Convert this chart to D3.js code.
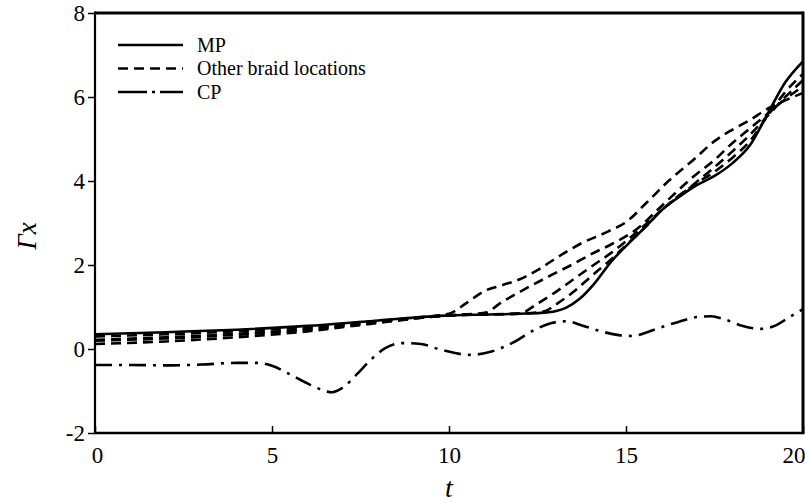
<!DOCTYPE html>
<html>
<head>
<meta charset="utf-8">
<script src="https://cdn.jsdelivr.net/npm/d3@7"></script>
<style>
  html, body { margin: 0; padding: 0; background: #fff; }
  svg { display: block; }
  text { font-family: "Liberation Serif", "Times New Roman", serif; fill: #000; }
</style>
</head>
<body>
<svg id="chart" width="805" height="502"></svg>
<script>
// Axis ticks
const xTicks = [0, 5, 10, 15, 20];
const yTicks = [-2, 0, 2, 4, 6, 8];

// MP (solid)
const tMP = [0, 2, 4, 6, 8, 10, 11, 12, 12.6, 13, 13.3, 13.7, 14.1, 14.6, 15, 15.6, 16, 16.5, 17, 17.5, 18, 18.5, 19, 19.5, 20];
const gMP = [0.35, 0.4, 0.46, 0.55, 0.68, 0.8, 0.82, 0.84, 0.86, 0.9, 0.98, 1.2, 1.55, 2.1, 2.45, 2.95, 3.3, 3.62, 3.9, 4.12, 4.42, 4.85, 5.6, 6.35, 6.85];

// Other braid locations (dashed)
const tBraid1 = [0, 2, 4, 6, 8, 9, 10, 10.5, 11, 11.5, 12, 12.5, 13, 13.7, 14.5, 15, 15.6, 16.2, 16.9, 17.5, 18, 18.5, 19, 19.5, 20];
const gBraid1 = [0.22, 0.28, 0.36, 0.48, 0.65, 0.74, 0.84, 1.1, 1.38, 1.52, 1.66, 1.88, 2.15, 2.5, 2.8, 3.02, 3.5, 4.0, 4.5, 4.95, 5.22, 5.45, 5.72, 5.92, 6.1];

const tBraid2 = [0, 2, 4, 6, 8, 10, 11, 11.5, 12, 12.8, 13.5, 14, 14.6, 15.3, 16, 16.9, 17.5, 18, 18.5, 19, 19.5, 20];
const gBraid2 = [0.2, 0.25, 0.34, 0.46, 0.64, 0.8, 0.86, 1.12, 1.36, 1.72, 2.02, 2.25, 2.5, 2.85, 3.4, 4.1, 4.5, 4.9, 5.25, 5.6, 5.95, 6.25];

const tBraid3 = [0, 2, 4, 6, 8, 10, 12, 12.5, 13, 13.5, 14, 14.6, 15.3, 16, 17, 17.5, 18, 18.5, 19, 19.5, 20];
const gBraid3 = [0.12, 0.18, 0.28, 0.42, 0.62, 0.8, 0.85, 1.08, 1.35, 1.65, 1.95, 2.3, 2.78, 3.3, 3.98, 4.33, 4.7, 5.1, 5.55, 6.0, 6.4];

const tBraid4 = [0, 2, 4, 6, 8, 10, 12, 12.7, 13, 13.5, 14, 14.6, 15, 15.6, 16, 17, 17.5, 18, 18.5, 19, 19.5, 20];
const gBraid4 = [0.3, 0.35, 0.42, 0.52, 0.67, 0.8, 0.84, 0.9, 1.05, 1.35, 1.72, 2.15, 2.47, 2.95, 3.3, 3.95, 4.22, 4.55, 4.95, 5.55, 6.12, 6.55];

// CP (dash-dot)
const tCP = [0, 1, 2, 3, 4, 4.6, 5, 5.5, 6, 6.4, 6.7, 7, 7.4, 7.8, 8.2, 8.7, 9.2, 9.7, 10.2, 10.6, 11.2, 11.8, 12.4, 12.9, 13.3, 13.8, 14.3, 14.8, 15.2, 15.6, 16, 16.5, 17, 17.4, 17.8, 18.3, 18.8, 19.2, 19.6, 20];
const gCP = [-0.38, -0.38, -0.39, -0.37, -0.33, -0.33, -0.4, -0.6, -0.82, -0.97, -1.03, -0.92, -0.6, -0.25, 0.02, 0.14, 0.12, 0.0, -0.1, -0.14, -0.06, 0.15, 0.45, 0.62, 0.66, 0.55, 0.42, 0.33, 0.31, 0.4, 0.52, 0.65, 0.76, 0.78, 0.7, 0.55, 0.48, 0.55, 0.75, 0.95];

const legendLabels = ["MP", "Other braid locations", "CP"];

const svg = d3.select("#chart");
const margin = { left: 95, right: 2, top: 13, bottom: 69 };
const W = 805, H = 502;

const x = d3.scaleLinear().domain([0, 20]).range([margin.left, W - margin.right]);
const y = d3.scaleLinear().domain([-2, 8]).range([H - margin.bottom, margin.top]);

const zip = (ts, vs) => ts.map((t, i) => [t, vs[i]]);
const line = d3.line().x(d => x(d[0])).y(d => y(d[1])).curve(d3.curveMonotoneX);

const styles = {
  solid: { dash: null },
  dashed: { dash: "10,6" },
  dashdot: { dash: "17,7,3,7" }
};

const series = [
  { data: zip(tBraid1, gBraid1), style: "dashed" },
  { data: zip(tBraid2, gBraid2), style: "dashed" },
  { data: zip(tBraid3, gBraid3), style: "dashed" },
  { data: zip(tBraid4, gBraid4), style: "dashed" },
  { data: zip(tCP, gCP), style: "dashdot" },
  { data: zip(tMP, gMP), style: "solid" }
];

const plot = svg.append("g");
plot.append("clipPath").attr("id", "clip")
  .append("rect")
  .attr("x", x(0)).attr("y", y(8))
  .attr("width", x(20) - x(0)).attr("height", y(-2) - y(8));

plot.append("g").attr("clip-path", "url(#clip)")
  .selectAll("path")
  .data(series)
  .join("path")
  .attr("d", d => line(d.data))
  .attr("fill", "none")
  .attr("stroke", "#000")
  .attr("stroke-width", 2.6)
  .attr("stroke-dasharray", d => styles[d.style].dash);

// Axes
const yAxis = d3.axisLeft(y).tickValues(yTicks).tickSize(7).tickPadding(3).tickFormat(d3.format("d"));
const gy = svg.append("g").attr("transform", `translate(${x(0)},0)`).call(yAxis);
gy.select(".domain").remove();
gy.selectAll(".tick line").attr("stroke", "#000").attr("stroke-width", 1.5);
gy.selectAll(".tick text").attr("font-size", 23).attr("font-family", "Liberation Serif")
  .text(d => d < 0 ? "-" + Math.abs(d) : d);

const xAxis = d3.axisBottom(x).tickValues(xTicks).tickSize(-7).tickPadding(14).tickFormat(d3.format("d"));
const gx = svg.append("g").attr("transform", `translate(0,${y(-2)})`).call(xAxis);
gx.select(".domain").remove();
gx.selectAll(".tick line").attr("stroke", "#000").attr("stroke-width", 1.5);
gx.selectAll(".tick text").attr("font-size", 23).attr("font-family", "Liberation Serif")
  .attr("text-anchor", d => d === 20 ? "end" : "middle")
  .attr("dx", d => d === 20 ? 2 : d === 0 ? 2 : 0);

// Frame
const fx0 = x(0), fx1 = x(20), fy0 = y(8), fy1 = y(-2);
svg.append("line").attr("x1", fx0).attr("x2", fx1).attr("y1", fy0).attr("y2", fy0).attr("stroke", "#000").attr("stroke-width", 3);
svg.append("line").attr("x1", fx1).attr("x2", fx1).attr("y1", fy0 - 1.5).attr("y2", fy1).attr("stroke", "#000").attr("stroke-width", 3);
svg.append("line").attr("x1", fx0).attr("x2", fx0).attr("y1", fy0 - 1.5).attr("y2", fy1 + 1).attr("stroke", "#000").attr("stroke-width", 2.2);
svg.append("line").attr("x1", fx0).attr("x2", fx1 + 1.5).attr("y1", fy1).attr("y2", fy1).attr("stroke", "#000").attr("stroke-width", 2.4);

// Axis titles
svg.append("text")
  .attr("x", (fx0 + fx1) / 2).attr("y", 497)
  .attr("text-anchor", "middle")
  .attr("font-size", 28).attr("font-style", "italic")
  .text("t");

svg.append("text")
  .attr("transform", "translate(36,236) rotate(-90)")
  .attr("text-anchor", "middle")
  .attr("font-size", 27).attr("font-style", "italic")
  .text("Γx");

// Legend
const legendStyles = ["solid", "dashed", "dashdot"];
const leg = svg.append("g");
legendLabels.forEach((label, i) => {
  const ly = 45 + i * 23.5;
  leg.append("line")
    .attr("x1", 118).attr("x2", 183).attr("y1", ly).attr("y2", ly)
    .attr("stroke", "#000").attr("stroke-width", 2.4)
    .attr("stroke-dasharray", legendStyles[i] === "dashdot" ? "29,5,3,5" : styles[legendStyles[i]].dash);
  leg.append("text")
    .attr("x", 197).attr("y", ly + 6.5)
    .attr("font-size", 20)
    .text(label);
});
</script>
</body>
</html>
